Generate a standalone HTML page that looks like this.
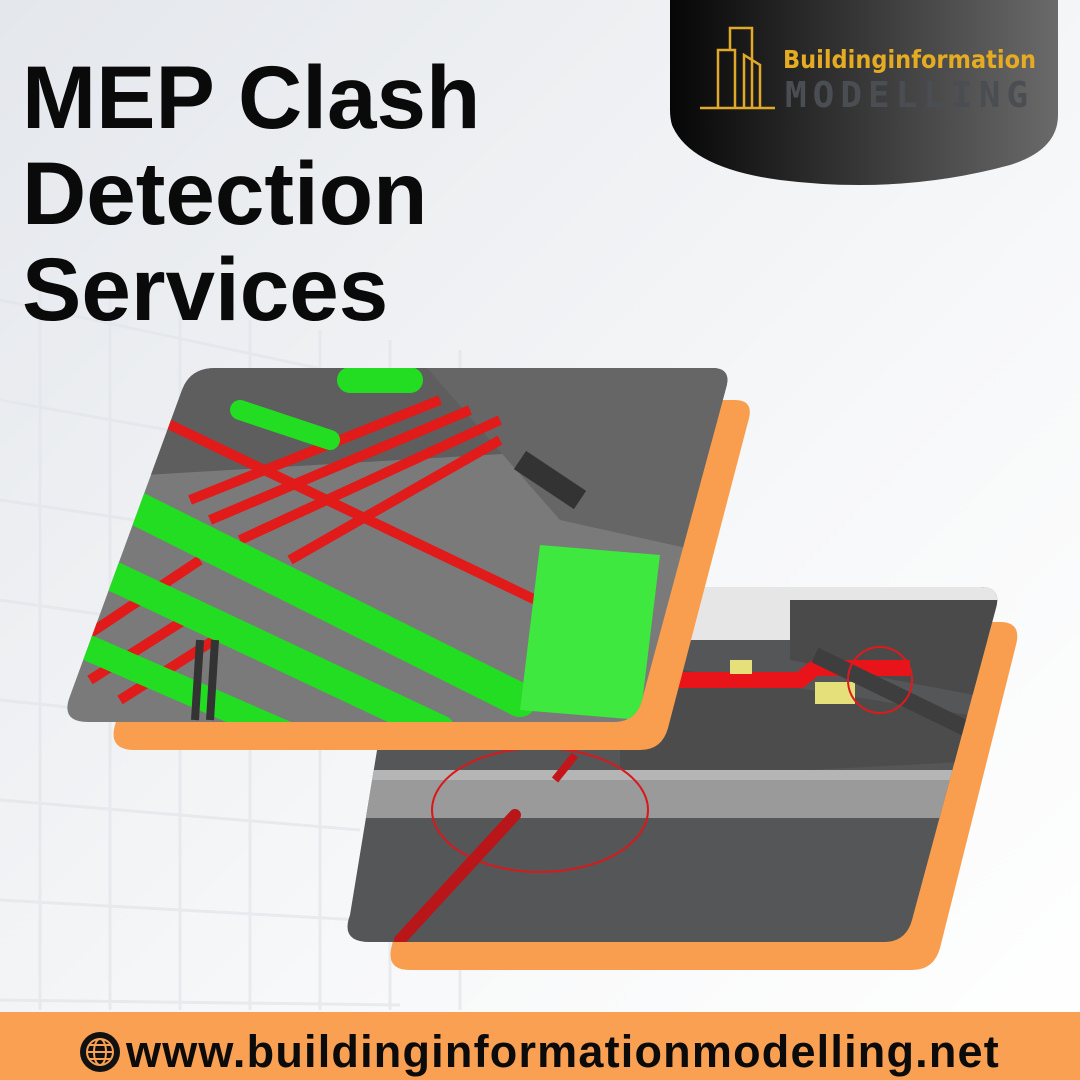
<!DOCTYPE html>
<html><head><style>
body{margin:0;width:1080px;height:1080px;overflow:hidden;background:#f2f3f5;font-family:"Liberation Sans",sans-serif}
</style></head><body>
<svg width="1080" height="1080" viewBox="0 0 1080 1080" style="position:absolute;left:0;top:0">
<defs>
<linearGradient id="bg" x1="0" y1="0" x2="1" y2="1"><stop offset="0" stop-color="#e4e7ec"/><stop offset="0.6" stop-color="#f7f8f9"/><stop offset="1" stop-color="#ffffff"/></linearGradient>
<linearGradient id="lg" x1="0" x2="1"><stop offset="0" stop-color="#060606"/><stop offset="1" stop-color="#6a6a6a"/></linearGradient>
<clipPath id="c1"><path d="M215,368 H712 Q732,368 726,388 L642,700 Q636,722 614,722 H88 Q60,722 70,696 L182,390 Q190,368 215,368Z"/></clipPath>
<clipPath id="c2"><path d="M420,587 H980 Q1002,587 996,608 L912,920 Q906,942 884,942 H370 Q340,942 350,915 L400,610 Q405,587 420,587Z"/></clipPath>
</defs>
<rect width="1080" height="1080" fill="url(#bg)"/>
<g stroke="#e2e5ea" stroke-width="3" fill="none" opacity="0.7">
<path d="M0,300 L560,420 M0,400 L560,500 M0,500 L540,580 M0,600 L420,660 M0,700 L380,740 M0,800 L360,830 M0,900 L360,920 M0,1000 L400,1005"/>
<path d="M40,280 L40,1010 M110,290 L110,1010 M180,300 L180,1010 M250,320 L250,1010 M320,330 L320,1010 M390,340 L390,1010 M460,350 L460,1010"/>
</g>
<!-- logo -->
<path d="M670,0 H1058 V115 Q1058,150 1010,165 Q900,195 780,180 Q690,168 672,125 Q670,118 670,110Z" fill="url(#lg)"/>
<g stroke="#e0a92a" stroke-width="2.5" fill="none">
<path d="M700,108 H775 M718,108 V50 H735 V108 M730,50 V28 H752 V108 M744,108 V55 L760,65 V108"/>
</g>
<text x="783" y="68" font-size="25" font-weight="bold" fill="#e5ab22" font-family="'DejaVu Sans Condensed','Liberation Sans',sans-serif">Buildinginformation</text>
<text x="785" y="107" font-size="36" font-weight="bold" fill="#4a4d52" letter-spacing="6" font-family="'DejaVu Sans Mono','Liberation Mono',monospace">MODELLING</text>
<!-- title -->
<g font-size="89" font-weight="bold" fill="#0a0a0a">
<text x="22" y="128">MEP Clash</text>
<text x="22" y="224">Detection</text>
<text x="22" y="320">Services</text>
</g>
<!-- orange backs -->
<path d="M455,622 H1000 Q1022,622 1016,645 L940,948 Q934,970 912,970 H410 Q385,970 392,945 L450,640Z" fill="#f99e4e"/>
<!-- bottom image -->
<g clip-path="url(#c2)">
<rect x="330" y="580" width="680" height="370" fill="#555657"/>
<rect x="330" y="580" width="680" height="60" fill="#e6e6e6"/>
<path d="M790,600 H1000 V700 L790,660Z" fill="#4a4a4a"/>
<path d="M620,660 L1000,720 V760 L620,780Z" fill="#4c4c4c"/>
<rect x="330" y="770" width="680" height="48" fill="#9a9a9a"/>
<rect x="330" y="770" width="680" height="10" fill="#b5b5b5"/>
<path d="M660,680 H800 L815,668 H910" stroke="#e8141a" stroke-width="16" fill="none"/>
<rect x="730" y="660" width="22" height="14" fill="#e6e07a"/>
<rect x="815" y="682" width="40" height="22" fill="#e6e07a"/>
<path d="M815,655 L990,740" stroke="#3e3e3e" stroke-width="16"/>
<ellipse cx="880" cy="680" rx="32" ry="33" stroke="#e0191c" stroke-width="2" fill="none"/>
<ellipse cx="540" cy="810" rx="108" ry="62" stroke="#d8191c" stroke-width="2" fill="none"/>
<path d="M515,815 L400,940" stroke="#b9161a" stroke-width="12" stroke-linecap="round"/>
<path d="M575,755 L555,780" stroke="#c4161a" stroke-width="8"/>
</g>
<path d="M240,400 H735 Q755,400 748,422 L668,728 Q662,750 640,750 H135 Q108,750 115,725 L210,420 Q216,400 240,400Z" fill="#f99e4e"/>
<!-- top image -->
<g clip-path="url(#c1)">
<rect x="60" y="360" width="680" height="370" fill="#7a7a7a"/>
<path d="M60,360 H740 V440 L60,480Z" fill="#5e5e5e"/>
<path d="M420,360 H740 V560 L560,520Z" fill="#666"/>
<g stroke="#e11a1a" stroke-width="10">
<path d="M160,420 L640,650"/><path d="M190,500 L440,400"/><path d="M210,520 L470,410"/><path d="M240,540 L500,420"/><path d="M290,560 L500,440"/>
<path d="M80,640 L200,560"/><path d="M90,680 L200,610"/><path d="M120,700 L230,630"/>
</g>
<g stroke="#22dd22" stroke-linecap="round">
<path d="M120,500 L520,700" stroke-width="34"/>
<path d="M100,570 L440,730" stroke-width="30"/>
<path d="M70,640 L300,740" stroke-width="26"/>
<path d="M240,410 L330,440" stroke-width="20"/>
<path d="M350,380 L410,380" stroke-width="26"/>
</g>
<path d="M540,545 L660,555 L640,720 L520,710Z" fill="#3ee83e"/>
<path d="M520,460 L580,500" stroke="#333" stroke-width="22"/>
<path d="M200,640 L195,720 M215,640 L210,720" stroke="#333" stroke-width="8"/>
</g>
<!-- footer -->
<rect x="0" y="1012" width="1080" height="68" fill="#f9a053"/>
<circle cx="100" cy="1052" r="20" fill="#111"/>
<g stroke="#f9a053" stroke-width="2" fill="none"><circle cx="100" cy="1052" r="13"/><ellipse cx="100" cy="1052" rx="6" ry="13"/><path d="M87,1052 H113 M89,1045 H111 M89,1059 H111"/></g>
<text x="126" y="1067" font-size="45" font-weight="bold" fill="#0b0b0b" letter-spacing="1.2">www.buildinginformationmodelling.net</text>
</svg>
</body></html>
